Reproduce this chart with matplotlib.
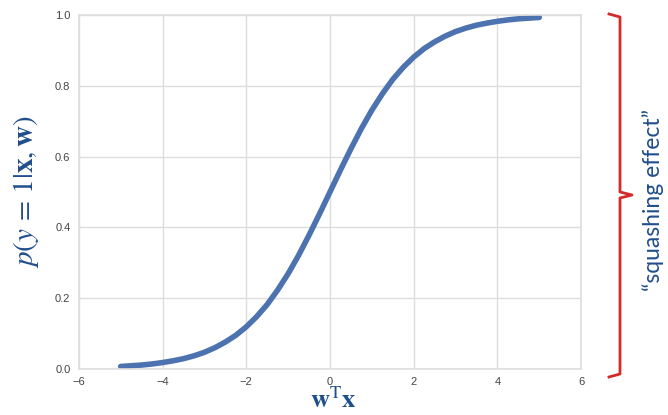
import matplotlib.pyplot as plt
import numpy as np
from matplotlib.lines import Line2D

# values
x_vals = [-5.0, -4.75, -4.5, -4.25, -4.0, -3.75, -3.5, -3.25, -3.0, -2.75, -2.5,
          -2.25, -2.0, -1.75, -1.5, -1.25, -1.0, -0.75, -0.5, -0.25, 0.0,
          0.25, 0.5, 0.75, 1.0, 1.25, 1.5, 1.75, 2.0, 2.25, 2.5,
          2.75, 3.0, 3.25, 3.5, 3.75, 4.0, 4.25, 4.5, 4.75, 5.0]
p_vals = [0.007, 0.009, 0.011, 0.014, 0.018, 0.023, 0.029, 0.037, 0.047, 0.060, 0.076,
          0.095, 0.119, 0.148, 0.182, 0.223, 0.269, 0.321, 0.378, 0.438, 0.500,
          0.562, 0.622, 0.679, 0.731, 0.777, 0.818, 0.852, 0.881, 0.905, 0.924,
          0.940, 0.953, 0.963, 0.971, 0.977, 0.982, 0.986, 0.989, 0.991, 0.993]
x_ticks = [-6, -4, -2, 0, 2, 4, 6]
y_ticks = [0.0, 0.2, 0.4, 0.6, 0.8, 1.0]

plt.rcParams['mathtext.fontset'] = 'stix'
navy = '#1f4e8c'

fig = plt.figure(figsize=(6.68, 4.15), dpi=100)
ax = fig.add_axes([0.118, 0.111, 0.752, 0.853])

ax.plot(x_vals, p_vals, color='#4c72b0', lw=4, solid_capstyle='round')

ax.set_xlim(-6, 6)
ax.set_ylim(0, 1)
ax.set_xticks(x_ticks)
ax.set_yticks(y_ticks)
ax.set_xticklabels([str(t).replace('-', '\u2212') for t in x_ticks],
                   family='Liberation Sans')
ax.set_yticklabels(['%.1f' % t for t in y_ticks], family='Liberation Sans')
ax.tick_params(labelsize=8, colors='#444444', length=0, pad=6)
ax.grid(True, color='#dddddd', lw=1)
ax.set_axisbelow(True)
for s in ax.spines.values():
    s.set_color('#dddddd')
    s.set_linewidth(1.2)

ax.set_ylabel(r'$p(y\,=\,1|\mathbf{x},\mathbf{w})$', fontsize=21, color=navy, labelpad=10)

W, H = 668.0, 415.0
def fx(px): return px / W
def fy(py): return 1 - py / H

fig.text(fx(333), fy(401), r'$\mathbf{w}^{\mathrm{T}}\mathbf{x}$', fontsize=19,
         color=navy, ha='center', va='center')

# red bracket on the right
red = '#d42a2a'
bx = 620
pts_x = [609, bx, bx, 632, bx, bx, 609]
pts_y = [14, 17, 192, 195, 198, 374, 377]
fig.add_artist(Line2D([fx(v) for v in pts_x], [fy(v) for v in pts_y],
                      color=red, lw=2, solid_joinstyle='round'))

fig.text(fx(653), fy(200), '\u201csquashing effect\u201d', rotation=90,
         ha='center', va='center', fontsize=16.5, color=navy, family='Lato')

fig.savefig('out.png', dpi=100)
